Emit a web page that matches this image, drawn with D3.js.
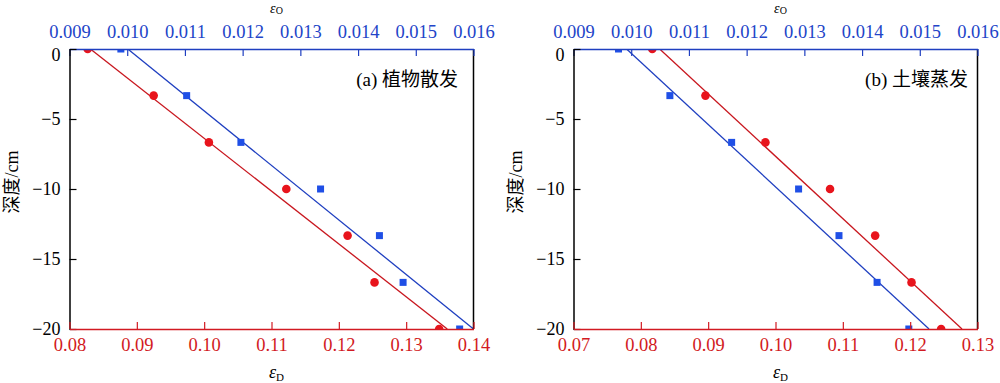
<!DOCTYPE html>
<html>
<head>
<meta charset="utf-8">
<script src="https://cdn.jsdelivr.net/npm/d3@7"></script>
<style>
  body { margin: 0; background: #fff; }
  svg { display: block; }
</style>
</head>
<body>
<div id="chart"></div>
<script>
// depth of the samples (cm)
const depth = [0, -3.33, -6.67, -10, -13.33, -16.67, -20];

// (a) 植物散发
const epsDA = [0.0827, 0.0925, 0.1007, 0.1122, 0.1213, 0.1253, 0.1349];
const epsOA = [0.00989, 0.01103, 0.01197, 0.01335, 0.01437, 0.01478, 0.01576];
// (b) 土壤蒸发
const epsDB = [0.0817, 0.0896, 0.0985, 0.1081, 0.1148, 0.1202, 0.1246];
const epsOB = [0.00978, 0.01067, 0.01174, 0.0129, 0.0136, 0.01426, 0.01481];

// fitted lines: value at depth 0 and at depth -20
const fitDepth = [0, -20];
const fitDA = [0.0831, 0.1361];
const fitOA = [0.01001, 0.0160];
const fitDB = [0.0828, 0.1277];
const fitOB = [0.00992, 0.01516];

const dTicksA = [0.08, 0.09, 0.10, 0.11, 0.12, 0.13, 0.14];
const dTicksB = [0.07, 0.08, 0.09, 0.10, 0.11, 0.12, 0.13];
const oTicks = [0.009, 0.010, 0.011, 0.012, 0.013, 0.014, 0.015, 0.016];
const yTicks = [0, -5, -10, -15, -20];

const labels = ['(a) 植物散发', '(b) 土壤蒸发'];
const yTitle = '深度/cm';

// styling
const W = 1000, H = 383;
const red = '#e8141c', redLine = '#c8161e', redText = '#d21a22';
const blue = '#1f4fe6', blueLine = '#1f3fc0', blueText = '#2244c8';
const serif = 'Liberation Serif, DejaVu Serif, serif';
const cjk = 'Liberation Serif, Noto Sans CJK SC, serif';

const panels = [
  { x0: 69.5, d: epsDA, o: epsOA, fd: fitDA, fo: fitOA, dTicks: dTicksA, label: labels[0], labelX: 458 },
  { x0: 573.5, d: epsDB, o: epsOB, fd: fitDB, fo: fitOB, dTicks: dTicksB, label: labels[1], labelX: 968 }
];
const pw = 404, plotTop = 49, ph = 280;

const svg = d3.select('#chart').append('svg')
  .attr('width', W)
  .attr('height', H)
  .attr('font-family', serif);

panels.forEach((p, i) => {
  const g = svg.append('g').attr('transform', `translate(${p.x0},${plotTop})`);

  const xD = d3.scaleLinear().domain(d3.extent(p.dTicks)).range([0, pw]);
  const xO = d3.scaleLinear().domain(d3.extent(oTicks)).range([0, pw]);
  const y = d3.scaleLinear().domain([0, -20]).range([0, ph]);

  const clipId = 'clip' + i;
  g.append('clipPath').attr('id', clipId)
    .append('rect').attr('width', pw).attr('height', ph);

  const plot = g.append('g').attr('clip-path', `url(#${clipId})`);

  const line = (xs) => d3.line()
    .x((d, j) => xs(d))
    .y((d, j) => y(fitDepth[j]));

  plot.append('path')
    .datum(p.fo)
    .attr('d', line(xO))
    .attr('fill', 'none')
    .attr('stroke', blueLine)
    .attr('stroke-width', 1.3);

  plot.append('path')
    .datum(p.fd)
    .attr('d', line(xD))
    .attr('fill', 'none')
    .attr('stroke', redLine)
    .attr('stroke-width', 1.3);

  const sq = 7;
  plot.selectAll('.sq')
    .data(p.o)
    .enter()
    .append('rect')
    .attr('x', d => xO(d) - sq / 2)
    .attr('y', (d, j) => y(depth[j]) - sq / 2)
    .attr('width', sq)
    .attr('height', sq)
    .attr('fill', blue);

  plot.selectAll('.dot')
    .data(p.d)
    .enter()
    .append('circle')
    .attr('cx', d => xD(d))
    .attr('cy', (d, j) => y(depth[j]))
    .attr('r', 4.3)
    .attr('fill', red);

  // right frame line
  g.append('line')
    .attr('x1', pw).attr('x2', pw)
    .attr('y1', 0).attr('y2', ph)
    .attr('stroke', '#000')
    .attr('stroke-width', 1.5);

  // top axis (epsilon O)
  const axTop = g.append('g')
    .call(d3.axisTop(xO).tickValues(oTicks).tickFormat(d3.format('.3f'))
      .tickSize(-7).tickSizeOuter(0).tickPadding(11))
    .attr('font-family', serif);
  axTop.select('.domain').attr('stroke', blueLine).attr('stroke-width', 1.5);
  axTop.selectAll('.tick line').attr('stroke', blueLine).attr('stroke-width', 1.2);
  axTop.selectAll('.tick text')
    .attr('fill', blueText)
    .style('font-size', '18.5px');

  // left axis (depth)
  const axLeft = g.append('g')
    .call(d3.axisLeft(y).tickValues(yTicks).tickFormat(d3.format('d'))
      .tickSize(-7).tickSizeOuter(0).tickPadding(9))
    .attr('font-family', serif);
  axLeft.select('.domain').attr('stroke', '#000').attr('stroke-width', 1.5);
  axLeft.selectAll('.tick line').attr('stroke', '#000').attr('stroke-width', 1.2);
  axLeft.selectAll('.tick text')
    .attr('fill', '#000')
    .style('font-size', '18px');
  // the "0" label sits a little lower, clear of the top labels
  axLeft.selectAll('.tick text').filter(d => d === 0).attr('dy', '0.62em');

  // bottom axis (epsilon D)
  const axBot = g.append('g')
    .attr('transform', `translate(0,${ph})`)
    .call(d3.axisBottom(xD).tickValues(p.dTicks).tickFormat(d3.format('.2f'))
      .tickSize(-7).tickSizeOuter(0).tickPadding(9))
    .attr('font-family', serif);
  axBot.select('.domain').attr('stroke', redText).attr('stroke-width', 1.5);
  axBot.selectAll('.tick line').attr('stroke', redText).attr('stroke-width', 1.2);
  axBot.selectAll('.tick text')
    .attr('fill', redText)
    .style('font-size', '18.5px');

  // axis titles
  const cx = pw / 2 + 5;
  const tO = svg.append('text')
    .attr('x', p.x0 + cx).attr('y', 13)
    .attr('text-anchor', 'middle')
    .style('font-size', '14px');
  tO.append('tspan').attr('font-style', 'italic').style('font-size', '14px').text('ε');
  tO.append('tspan').attr('dy', 1).style('font-size', '10px').text('O');

  const tD = svg.append('text')
    .attr('x', p.x0 + cx).attr('y', 378)
    .attr('text-anchor', 'middle')
    .style('font-size', '18px');
  tD.append('tspan').attr('font-style', 'italic').text('ε');
  tD.append('tspan').attr('dy', 3).style('font-size', '11px').text('D');

  svg.append('text')
    .attr('transform', `translate(${p.x0 - 52},${plotTop + ph / 2 - 7}) rotate(-90)`)
    .attr('text-anchor', 'middle')
    .attr('font-family', cjk)
    .style('font-size', '18px')
    .text(yTitle);

  // panel label
  svg.append('text')
    .attr('x', p.labelX).attr('y', 86)
    .attr('text-anchor', 'end')
    .attr('font-family', cjk)
    .style('font-size', '19px')
    .text(p.label);
});
</script>
</body>
</html>
